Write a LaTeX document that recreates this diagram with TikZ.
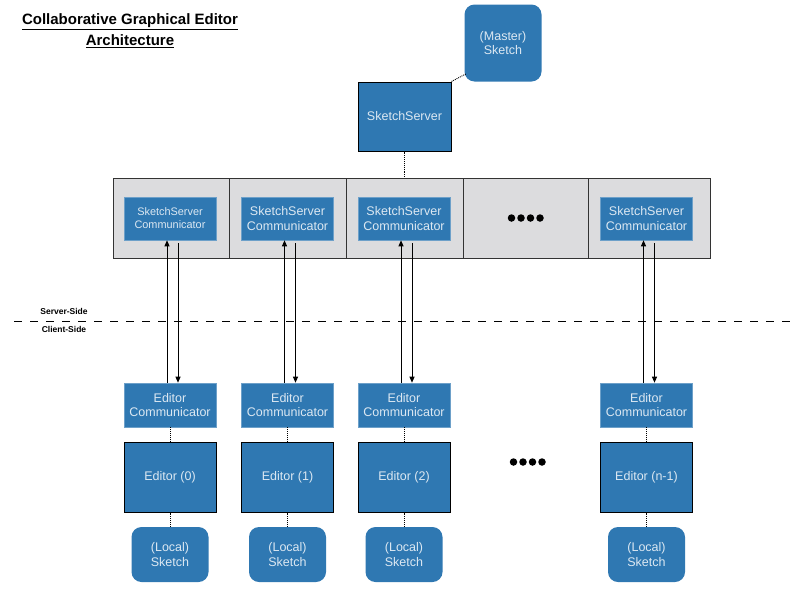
\documentclass[tikz,border=0pt]{standalone}
\usepackage{fontspec}
\setmainfont{Liberation Sans}
\usetikzlibrary{arrows.meta}
\definecolor{boxblue}{HTML}{2F78B2}
\definecolor{boxtext}{HTML}{DCE8F2}
\definecolor{band}{HTML}{DCDCDE}
\begin{document}
\begin{tikzpicture}[x=1pt,y=-1pt,
  blue/.style={fill=boxblue,text=boxtext,inner sep=0pt,align=center,font=\fontsize{12.5}{14.5}\selectfont},
  comm/.style={blue,draw=boxblue!70!white,line width=0.6pt,minimum width=92pt,minimum height=44pt},
  bordered/.style={blue,draw=black,line width=1pt},
  rbox/.style={blue,rounded corners=10pt,minimum width=77pt},
  cell/.style={fill=band,draw=black!80,line width=0.8pt,minimum width=#1,minimum height=80pt,inner sep=0pt},
  dot/.style={densely dotted,line width=0.9pt},
  arr/.style={-{Triangle[length=6pt,width=5pt]},line width=0.9pt},
  bead/.style={circle,fill=black,inner sep=0pt,minimum size=7.5pt},
  ttl/.style={font=\fontsize{15}{17}\selectfont\bfseries}
]
\useasboundingbox (0,0) rectangle (800,600);
% title
\node[ttl] (t1) at (130,22) {\underline{Collaborative Graphical Editor}};
\node[ttl] (t2) at (130,41) {\underline{Architecture}};
% top
\node[rbox,minimum height=77pt] (master) at (503,43) {(Master)\\Sketch};
\node[bordered,minimum width=93pt,minimum height=69pt] (server) at (404.5,116.5) {SketchServer};
\draw[dot] (server.north east) -- ([xshift=2pt,yshift=8pt]master.south west);
% band cells
\node[cell=116pt,anchor=north west] (c1) at (113,178) {};
\node[cell=117pt,anchor=north west] (c2) at (229,178) {};
\node[cell=117pt,anchor=north west] (c3) at (346,178) {};
\node[cell=125pt,anchor=north west] (c4) at (463,178) {};
\node[cell=122pt,anchor=north west] (c5) at (588,178) {};
\draw[dot] (server.south) -- (server.south |- c3.north);
\node[comm,minimum height=43pt,font=\fontsize{10.9}{13}\selectfont] (s1) at (170,218.5) {SketchServer\\Communicator};
\node[comm,minimum height=43pt] (s2) at (287.5,218.5) {SketchServer\\Communicator};
\node[comm,minimum height=43pt] (s3) at (404,218.5) {SketchServer\\Communicator};
\node[comm,minimum height=43pt] (s5) at (646.5,218.5) {SketchServer\\Communicator};
\foreach \k/\x in {1/511.5,2/521,3/530.5,4/540}{\node[bead] (ua\k) at (\x,218) {};}
% divider
\coordinate (dl) at (14,321);
\coordinate (dr) at (792,321);
\draw[dashed,dash pattern=on 8pt off 8pt,line width=0.8pt] (dl) -- (dr);
\node[font=\fontsize{8.5}{10}\selectfont\bfseries] (ss) at (64,311) {Server-Side};
\node[font=\fontsize{8.5}{10}\selectfont\bfseries] (cs) at (64,329) {Client-Side};
% client columns
\foreach \i/\x/\lab in {1/170/Editor (0),2/287.5/Editor (1),3/404/Editor (2),5/646.5/Editor (n-1)}{
  \node[comm] (e\i) at (\x,405) {Editor\\Communicator};
  \node[bordered,minimum width=92pt,minimum height=70pt] (ed\i) at (\x,477) {\lab};
  \node[rbox,minimum height=55pt] (l\i) at (\x,554.5) {(Local)\\Sketch};
  \draw[dot] (e\i.south) -- (ed\i.north);
  \draw[dot] (ed\i.south) -- (l\i.north);
  \draw[arr] ([xshift=-3pt]e\i.north) -- ([xshift=-3pt]s\i.south);
  \draw[arr] ([xshift=8pt,yshift=-3pt]s\i.south) -- ([xshift=8pt]e\i.north);
}
\foreach \k/\x in {1/513.5,2/523,3/532.5,4/542}{\node[bead] (la\k) at (\x,462) {};}
\end{tikzpicture}
\end{document}
